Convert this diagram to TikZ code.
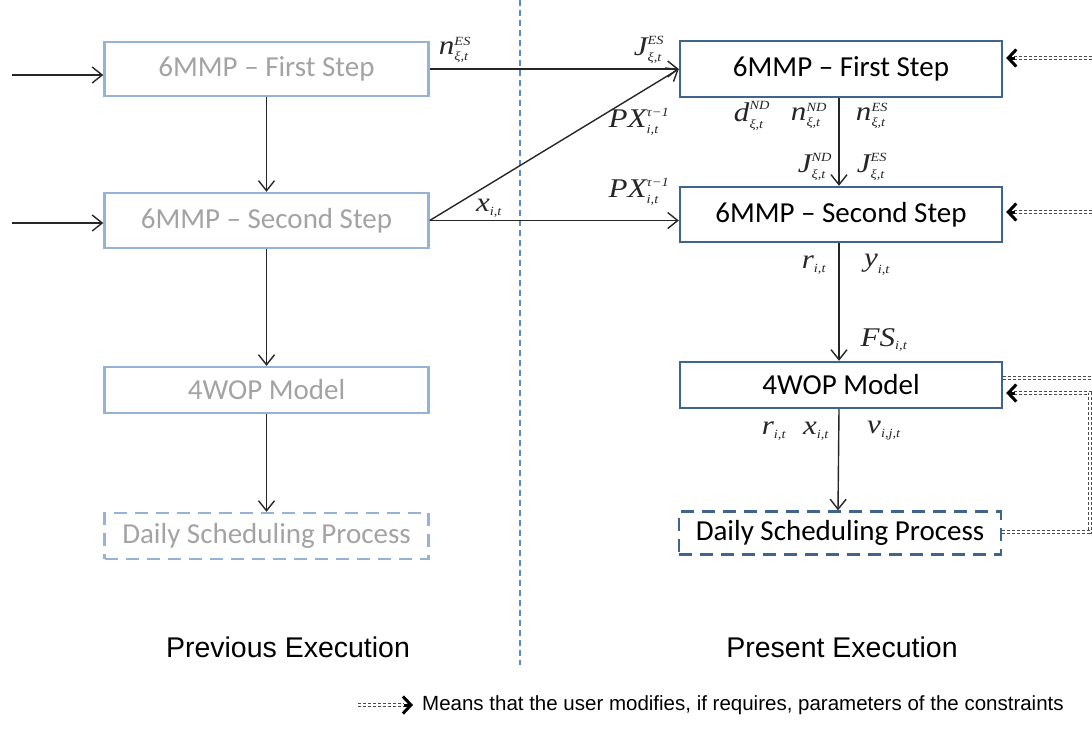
\RequirePackage{fix-cm}
\documentclass[tikz,border=0pt]{standalone}
\usepackage{graphicx}
\usepackage{fontspec}
\newfontfamily\boxfamily[Ligatures=TeX]{Carlito}
\newfontfamily\sansfamily{Liberation Sans}
\newfontfamily\varfamily{Liberation Serif}
\usetikzlibrary{arrows.meta,calc}

% model variables: italic serif symbol with small indices, set slightly wide
\newcommand\vfont{\varfamily\itshape\fontsize{27}{31}\selectfont}
\newcommand\vsfont{\varfamily\itshape\fontsize{12.5}{14}\selectfont}
\newcommand\varsupsub[3]{\scalebox{1.15}[1]{$\mbox{\vfont #1}^{\mbox{\vsfont #2}}_{\mbox{\vsfont #3}}$}}
\newcommand\varsub[2]{\scalebox{1.15}[1]{$\mbox{\vfont #1}_{\mbox{\vsfont #2}}$}}

\definecolor{oldblue}{HTML}{95B3D7}
\definecolor{oldgray}{HTML}{A3A3A3}
\definecolor{newblue}{HTML}{41648F}
\definecolor{divblue}{HTML}{5B8AC6}
\definecolor{fbgray}{HTML}{4A4A4A}

\tikzset{
  stage/.style={draw, rectangle, line width=2.4pt, inner sep=0pt,
    minimum width=324pt, font=\boxfamily\fontsize{29}{34}\selectfont},
  oldstage/.style={stage, draw=oldblue, text=oldgray},
  newstage/.style={stage, draw=newblue, text=black},
  dashedstage/.style={dash pattern=on 13pt off 8pt},
  conn/.style={draw=black!85, line width=1.4pt,
    -{Straight Barb[length=10pt,width=16pt,line width=1.4pt]}},
  fb/.style={draw=fbgray, line width=1.4pt, double=white,
    double distance=1.6pt, dash pattern=on 3pt off 2pt},
  fbtip/.style={draw=black, line width=3pt,
    -{Straight Barb[length=8pt,width=17pt,line width=3pt]}},
  varlabel/.style={inner sep=0pt, text=black!85, font=\fontsize{26}{30}\selectfont},
  title/.style={font=\sansfamily\fontsize{28.5}{34}\selectfont},
  divider/.style={draw=divblue, line width=1.1pt, dash pattern=on 6pt off 4pt}
}

\begin{document}
\begin{tikzpicture}[x=1pt,y=-1pt]
\useasboundingbox (0,0) rectangle (1092,740);

% previous execution column
\node[oldstage, minimum height=54pt] (L1) at (266.5,69) {6MMP -- First Step};
\node[oldstage, minimum height=55pt] (L2) at (266.5,220.5) {6MMP -- Second Step};
\node[oldstage, minimum height=46pt] (L3) at (266.5,390) {4WOP Model};
\node[oldstage, dashedstage, minimum height=46pt] (L4) at (266.5,536) {Daily Scheduling Process};

% present execution column
\node[newstage, minimum width=322pt, minimum height=56pt] (R1) at (841,69) {6MMP -- First Step};
\node[newstage, minimum width=322pt, minimum height=55pt] (R2) at (841,214.5) {6MMP -- Second Step};
\node[newstage, minimum width=322pt, minimum height=46pt] (R3) at (841,385) {4WOP Model};
\node[newstage, dashedstage, minimum width=322pt, minimum height=43pt] (R4) at (840,533) {Daily Scheduling Process};

% boundary between both executions
\coordinate (d1) at (520,0);
\coordinate (d2) at (520,665);
\draw[divider] (d1) -- (d2);

% inputs of the previous execution
\coordinate (in1) at (12,75);
\coordinate (in2) at (12,223);
\draw[conn] (in1) -- (in1 -| L1.west);
\draw[conn] (in2) -- (in2 -| L2.west);

% flow inside the previous execution
\draw[conn] (L1) -- (L2);
\draw[conn] (L2) -- (L3);
\draw[conn] (L3) -- (L4);

% results passed on to the present execution
\draw[conn] (L1.east) -- (R1.west);
\draw[conn] (L2.east) -- (R1.west);
\draw[conn] (L2.east) -- (L2.east -| R2.west);

% flow inside the present execution
\draw[conn] ([xshift=-2pt]R1.south) -- ([xshift=-2pt]R2.north);
\draw[conn] ([xshift=-2pt]R2.south) -- ([xshift=-2pt]R3.north);
\draw[conn] ([xshift=-2pt]R3.south) -- ([xshift=-2pt]R4.north);

% variables on the connectors
\node[varlabel] (nES1) at (455,50) {\varsupsub{n}{ES}{ξ,t}};
\node[varlabel] (JES1) at (649,50) {\varsupsub{J}{ES}{ξ,t}};
\node[varlabel] (PXa) at (639,122) {\varsupsub{PX}{τ−1}{i,t}};
\node[varlabel] (PXb) at (639,192) {\varsupsub{PX}{τ−1}{i,t}};
\node[varlabel] (xit1) at (489,208) {\varsub{x}{i,t}};

\node[varlabel] (dND) at (752,116) {\varsupsub{d}{ND}{ξ,t}};
\node[varlabel] (nND) at (809,116) {\varsupsub{n}{ND}{ξ,t}};
\node[varlabel] (nES2) at (872,116) {\varsupsub{n}{ES}{ξ,t}};
\node[varlabel] (JND) at (815,167) {\varsupsub{J}{ND}{ξ,t}};
\node[varlabel] (JES2) at (872,167) {\varsupsub{J}{ES}{ξ,t}};

\node[varlabel] (rit1) at (814,265) {\varsub{r}{i,t}};
\node[varlabel] (yit1) at (877,265) {\varsub{y}{i,t}};
\node[varlabel] (FS) at (884,340) {\varsub{FS}{i,t}};

\node[varlabel] (rit2) at (774,431) {\varsub{r}{i,t}};
\node[varlabel] (xit2) at (816,431) {\varsub{x}{i,t}};
\node[varlabel] (vijt) at (884,431) {\varsub{v}{i,j,t}};

% user adjustments of constraint parameters
\coordinate (e1) at (1092,58);
\coordinate (e2) at (1092,212);
\coordinate (e3) at (1092,378);
\coordinate (c3) at (1090,393);
\coordinate (c4) at (1090,532);

\draw[fb] (e1) -- ($(e1 -| R1.east)+(8,0)$);
\draw[fbtip] ($(e1 -| R1.east)+(12,0)$) -- ($(e1 -| R1.east)+(3,0)$);
\draw[fb] (e2) -- ($(e2 -| R2.east)+(8,0)$);
\draw[fbtip] ($(e2 -| R2.east)+(12,0)$) -- ($(e2 -| R2.east)+(3,0)$);
\draw[fb] (e3 -| R3.east) -- (e3);
\draw[fb] (c4 -| R4.east) -- (c4) -- (c3) -- ($(c3 -| R3.east)+(8,0)$);
\draw[fbtip] ($(c3 -| R3.east)+(12,0)$) -- ($(c3 -| R3.east)+(3,0)$);

% column titles
\node[title] (prevtitle) at (288,647) {Previous Execution};
\node[title] (prestitle) at (842,647) {Present Execution};

% legend
\coordinate (lg1) at (358,705);
\coordinate (lg2) at (404,705);
\draw[fb] (lg1) -- (lg2);
\draw[fbtip] ($(lg2)+(0,0)$) -- ($(lg2)+(9,0)$);
\node[anchor=west, inner sep=0pt, font=\sansfamily\fontsize{20.5}{24}\selectfont]
  (legend) at (422,705) {Means that the user modifies, if requires, parameters of the constraints};
\end{tikzpicture}
\end{document}
